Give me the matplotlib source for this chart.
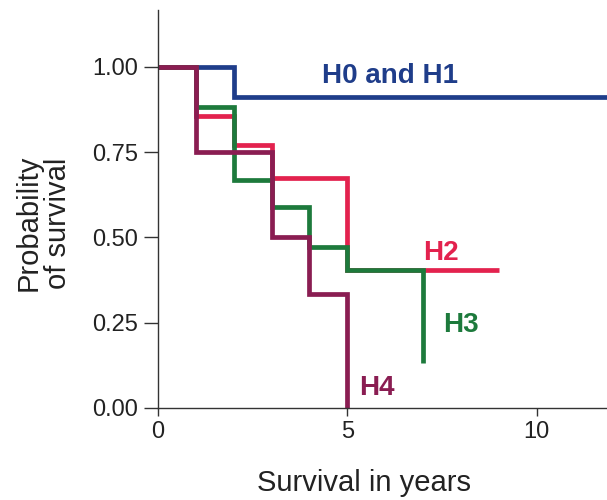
import matplotlib.pyplot as plt

plt.rcParams['font.family'] = ['Liberation Sans', 'DejaVu Sans']

# Kaplan-Meier step data (time in years, survival probability)
t_h01 = [0, 2, 12.5]
s_h01 = [1.0, 0.912, 0.912]

t_h2 = [0, 1, 2, 3, 5, 9]
s_h2 = [1.0, 0.857, 0.771, 0.674, 0.405, 0.405]

t_h3 = [0, 1, 2, 3, 4, 5, 7]
s_h3 = [1.0, 0.883, 0.669, 0.59, 0.472, 0.405, 0.132]

t_h4 = [0, 1, 3, 4, 5]
s_h4 = [1.0, 0.75, 0.5, 0.333, 0.0]

blue = '#1f3d8a'
red = '#e3224e'
green = '#1d7a3c'
purple = '#8a1d52'

fig = plt.figure(figsize=(6.07, 5.0), dpi=100)
ax = fig.add_axes([0.26, 0.184, 0.74, 0.796])

kw = dict(where='post', lw=3.4, solid_joinstyle='miter', solid_capstyle='butt')
ax.step(t_h01, s_h01, color=blue, **kw)
ax.step(t_h2, s_h2, color=red, **kw)
ax.step(t_h3, s_h3, color=green, **kw)
ax.step(t_h4, s_h4, color=purple, **kw)

tfont = dict(fontsize=20, fontweight='bold')
ax.text(4.33, 0.953, 'H0 and H1', color=blue, **tfont)
ax.text(6.99, 0.434, 'H2', color=red, **tfont)
ax.text(7.52, 0.223, 'H3', color=green, **tfont)
ax.text(5.3, 0.038, 'H4', color=purple, **tfont)

ax.set_xlim(0, 11.85)
ax.set_ylim(0, 1.167)
ax.set_xticks([0, 5, 10])
ax.set_yticks([0, 0.25, 0.5, 0.75, 1.0])
ax.set_yticklabels(['0.00', '0.25', '0.50', '0.75', '1.00'])
ax.tick_params(labelsize=17, width=1, color='#333333', labelcolor='#222222')
ax.tick_params(axis='y', length=10, pad=4)
ax.tick_params(axis='x', length=6, pad=3)

for side in ['top', 'right']:
    ax.spines[side].set_visible(False)
for side in ['left', 'bottom']:
    ax.spines[side].set_color('#333333')
    ax.spines[side].set_linewidth(1.0)

ax.set_xlabel('Survival in years', fontsize=21, color='#222222')
ax.xaxis.set_label_coords(0.459, -0.153)
ax.set_ylabel('Probability\nof survival', fontsize=21, color='#222222',
              linespacing=1.1)
ax.yaxis.set_label_coords(-0.19, 0.465)

fig.savefig('out.png', dpi=100)
